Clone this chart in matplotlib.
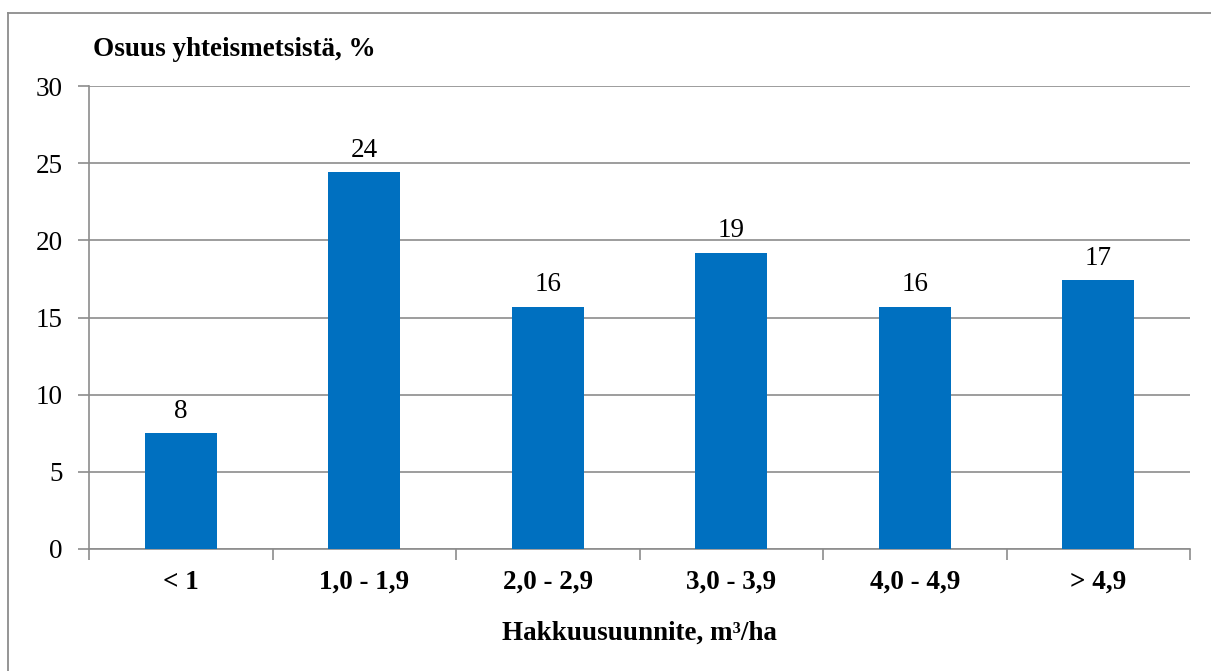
import matplotlib
matplotlib.use("Agg")
import matplotlib.pyplot as plt
from matplotlib.lines import Line2D
import numpy as np

categories = ["< 1", "1,0 - 1,9", "2,0 - 2,9", "3,0 - 3,9", "4,0 - 4,9", "> 4,9"]
values = [7.5, 24.4, 15.7, 19.2, 15.7, 17.4]
labels = ["8", "24", "16", "19", "16", "17"]
yticks = [0, 5, 10, 15, 20, 25, 30]

plt.rcParams['font.family'] = ['Liberation Serif', 'DejaVu Serif']

FS = 19.5
W, H = 1211, 671
fig = plt.figure(figsize=(W/100, H/100), dpi=100)
ax = fig.add_axes([89/W, 1-549/H, (1190-89)/W, (549-86)/H])

grey = "#8c8c8c"
x = np.arange(len(categories))
ax.bar(x, values, width=0.39, color="#0070C0", zorder=3)
for xi, v, l in zip(x, values, labels):
    ax.text(xi, v + 0.6, l, ha="center", va="bottom", fontsize=FS)

ax.set_xlim(-0.5, len(categories) - 0.5)
ax.set_ylim(0, 30)
ax.set_yticks(yticks)
ax.set_yticklabels([str(t) for t in yticks], fontsize=FS)
ax.yaxis.grid(True, color=grey, linewidth=1.2, zorder=0)
ax.set_axisbelow(True)

ax.set_xticks(x)
ax.set_xticklabels(categories, fontsize=FS, fontweight="bold")
ax.tick_params(axis="x", length=0, pad=15)
ax.set_xticks(np.arange(-0.5, len(categories)), minor=True)
ax.tick_params(axis="x", which="minor", length=8, color=grey, width=1.2)
ax.tick_params(axis="y", length=8, color=grey, width=1.2, pad=11)

for s in ["top", "right"]:
    ax.spines[s].set_visible(False)
for s in ["left", "bottom"]:
    ax.spines[s].set_color(grey)
    ax.spines[s].set_linewidth(1.2)

fig.text(93/W, 1-50/H, "Osuus yhteismetsistä, %", fontsize=FS, fontweight="bold",
         ha="left", va="center")
fig.text((89+1190)/2/W, 1-633/H, "Hakkuusuunnite, m³/ha", fontsize=FS, fontweight="bold",
         ha="center", va="center")

# outer frame
fig.add_artist(Line2D([8/W, 8/W], [0, 1-13/H], color=grey, linewidth=1.3, transform=fig.transFigure))
fig.add_artist(Line2D([8/W, 1], [1-13/H, 1-13/H], color=grey, linewidth=1.3, transform=fig.transFigure))

fig.savefig("out.png", dpi=100)
